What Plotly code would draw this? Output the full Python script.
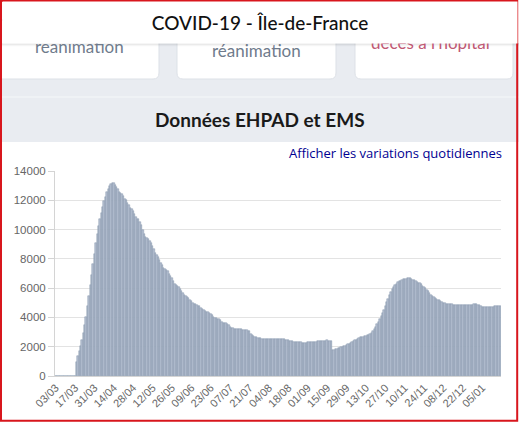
import pandas as pd
import plotly.graph_objects as go

start_date = '2020-03-03'
values = [
    0, 0, 0, 0, 0, 0, 0, 0, 0, 0,
    0, 0, 0, 0, 0, 950, 1350, 1700, 2050, 2450,
    2950, 3450, 4050, 4800, 5450, 6200, 6900, 7650, 8350, 9050,
    9700, 10250, 10750, 11150, 11550, 11950, 12250, 12550, 12800, 12950,
    13100, 13150, 13200, 13050, 12900, 12750, 12600, 12500, 12450, 12300,
    12100, 12000, 11800, 11650, 11500, 11400, 11300, 11050, 10850, 10750,
    10700, 10550, 10300, 10000, 9700, 9500, 9400, 9350, 9250, 9100,
    8900, 8650, 8400, 8250, 8100, 7900, 7700, 7550, 7400, 7300,
    7250, 7150, 7000, 6850, 6700, 6500, 6300, 6200, 6150, 6100,
    5950, 5800, 5700, 5550, 5450, 5400, 5300, 5200, 5100, 5000,
    4950, 4900, 4850, 4800, 4750, 4650, 4580, 4520, 4450, 4400,
    4380, 4330, 4250, 4150, 4050, 3980, 3950, 3920, 3880, 3800,
    3700, 3650, 3620, 3600, 3550, 3480, 3350, 3280, 3250, 3230,
    3220, 3210, 3200, 3190, 3180, 3170, 3160, 3150, 3140, 3100,
    3050, 2900, 2780, 2720, 2680, 2630, 2600, 2580, 2570, 2560,
    2550, 2540, 2540, 2530, 2530, 2530, 2530, 2530, 2530, 2530,
    2530, 2530, 2520, 2510, 2510, 2500, 2480, 2460, 2440, 2420,
    2400, 2380, 2350, 2330, 2310, 2300, 2300, 2290, 2280, 2280,
    2280, 2280, 2290, 2300, 2310, 2320, 2330, 2340, 2350, 2360,
    2370, 2380, 2390, 2400, 2410, 2420, 2430, 2410, 2380, 2370,
    1750, 1790, 1830, 1870, 1900, 1940, 1970, 2010, 2040, 2080,
    2120, 2160, 2200, 2230, 2290, 2360, 2430, 2480, 2540, 2590,
    2630, 2660, 2690, 2720, 2750, 2780, 2820, 2880, 2960, 3080,
    3220, 3380, 3550, 3700, 3880, 4080, 4300, 4520, 4780, 5030,
    5280, 5500, 5720, 5920, 6080, 6200, 6300, 6400, 6460, 6520,
    6560, 6600, 6620, 6650, 6670, 6680, 6660, 6620, 6580, 6540,
    6500, 6430, 6380, 6320, 6250, 6180, 6100, 6000, 5900, 5800,
    5680, 5560, 5450, 5380, 5330, 5280, 5220, 5180, 5120, 5050,
    5000, 4970, 4950, 4950, 4930, 4920, 4900, 4880, 4870, 4860,
    4850, 4850, 4850, 4860, 4860, 4860, 4870, 4870, 4870, 4880,
    4880, 4880, 4890, 4900, 4900, 4850, 4820, 4760, 4700, 4700,
    4710, 4720, 4720, 4730, 4740, 4740, 4740, 4750, 4760, 4770,
    4790, 4790,
]
y_ticks = [0, 2000, 4000, 6000, 8000, 10000, 12000, 14000]
page_title = 'COVID-19 - Île-de-France'
section_title = 'Données EHPAD et EMS'
toggle_text = 'Afficher les variations quotidiennes'
card_texts = ['réanimation', 'réanimation', "décès à l'hôpital"]

dates = pd.date_range(start_date, periods=len(values), freq='D')

W, H = 519, 422
L, R, T, B = 55, 501, 171, 376


def px(x):
    return (x - L) / (R - L)


def py(y):
    return (B - y) / (B - T)


def rrect(x0, y0, x1, y1, r):
    pts = [
        ('M', x0 + r, y0), ('L', x1 - r, y0), ('Q', x1, y0), ('', x1, y0 + r),
        ('L', x1, y1 - r), ('Q', x1, y1), ('', x1 - r, y1),
        ('L', x0 + r, y1), ('Q', x0, y1), ('', x0, y1 - r),
        ('L', x0, y0 + r), ('Q', x0, y0), ('', x0 + r, y0),
    ]
    s = ''
    for cmd, x, y in pts:
        s += '%s%.5f,%.5f ' % (cmd, px(x), py(y))
    return s + 'Z'


fig = go.Figure()
fig.add_trace(go.Bar(
    x=dates, y=values,
    marker=dict(color='#b3bed0', line=dict(color='#8797ad', width=0.5)),
    hoverinfo='skip',
))

shapes = []
# grey band with the section title
shapes.append(dict(type='rect', xref='paper', yref='paper', x0=px(0), x1=px(W), y0=py(43), y1=py(142),
                   fillcolor='#e9ecf1', line=dict(width=0), layer='below'))
shapes.append(dict(type='line', xref='paper', yref='paper', x0=px(0), x1=px(W), y0=py(97), y1=py(97),
                   line=dict(color='#f6f7f9', width=1.2), layer='below'))
# cards
for x0, x1 in [(-8, 159), (177, 336), (355, 513)]:
    shapes.append(dict(type='path', xref='paper', yref='paper', path=rrect(x0, 20, x1, 79, 6),
                       fillcolor='white', line=dict(color='#dde1e7', width=1), layer='below'))
# header shadow
shapes.append(dict(type='line', xref='paper', yref='paper', x0=px(0), x1=px(W), y0=py(44), y1=py(44),
                   line=dict(color='rgba(0,0,0,0.10)', width=1.5), layer='below'))
shapes.append(dict(type='line', xref='paper', yref='paper', x0=px(0), x1=px(W), y0=py(45.5), y1=py(45.5),
                   line=dict(color='rgba(0,0,0,0.04)', width=1.5), layer='below'))
# red frame
shapes.append(dict(type='rect', xref='paper', yref='paper', x0=px(1), x1=px(517.2), y0=py(1), y1=py(420.8),
                   line=dict(color='#d8161d', width=2), fillcolor='rgba(0,0,0,0)', layer='above'))

annotations = [
    dict(text=card_texts[0], x=px(79), y=py(47), font=dict(size=17, color='#6f7b8c', family='Lato')),
    dict(text=card_texts[1], x=px(256), y=py(51), font=dict(size=17, color='#6f7b8c', family='Lato')),
    dict(text=card_texts[2], x=px(430), y=py(42), font=dict(size=17, color='#bf5873', family='Lato')),
    dict(text=page_title, x=px(259.5), y=py(22.5), width=514, height=41, bgcolor='white',
         font=dict(size=19, color='#111111', family='Lato', weight=500)),
    dict(text=section_title, x=px(260), y=py(119), font=dict(size=19, color='#1a1a1a', family='Lato', weight=700)),
    dict(text=toggle_text, x=px(502.5), y=py(153), xanchor='right',
         font=dict(size=13, color='#000091', family='Open Sans')),
]
for a in annotations:
    a.setdefault('xanchor', 'center')
    a.update(xref='paper', yref='paper', yanchor='middle', showarrow=False, borderpad=0)

fig.update_layout(
    width=W, height=H,
    margin=dict(l=L, r=W - R, t=T, b=H - B, pad=0),
    paper_bgcolor='white', plot_bgcolor='white',
    bargap=0,
    showlegend=False,
    shapes=shapes,
    annotations=annotations,
    font=dict(family='Liberation Sans', color='#666666'),
)
fig.update_xaxes(
    type='date',
    range=[dates[0] - pd.Timedelta(hours=12), dates[-1] + pd.Timedelta(hours=12)],
    tick0=start_date, dtick=14 * 86400000, tickformat='%d/%m',
    tickangle=-45, tickfont=dict(size=11, color='#666666'),
    showgrid=False, showline=True, linecolor='#d4d4d4', linewidth=1,
    ticks='', fixedrange=True,
)
fig.update_yaxes(
    range=[0, 14000], tickvals=y_ticks, ticktext=[str(v) for v in y_ticks],
    tickfont=dict(size=11.5, color='#666666'),
    showgrid=True, gridcolor='#e3e3e3', gridwidth=1,
    showline=True, linecolor='#d4d4d4', linewidth=1,
    ticks='outside', ticklen=6, tickcolor='#d4d4d4',
    zeroline=False, fixedrange=True,
)

fig.write_html("out.html", config={'displayModeBar': False},
               post_script="document.body.style.margin='0';")
